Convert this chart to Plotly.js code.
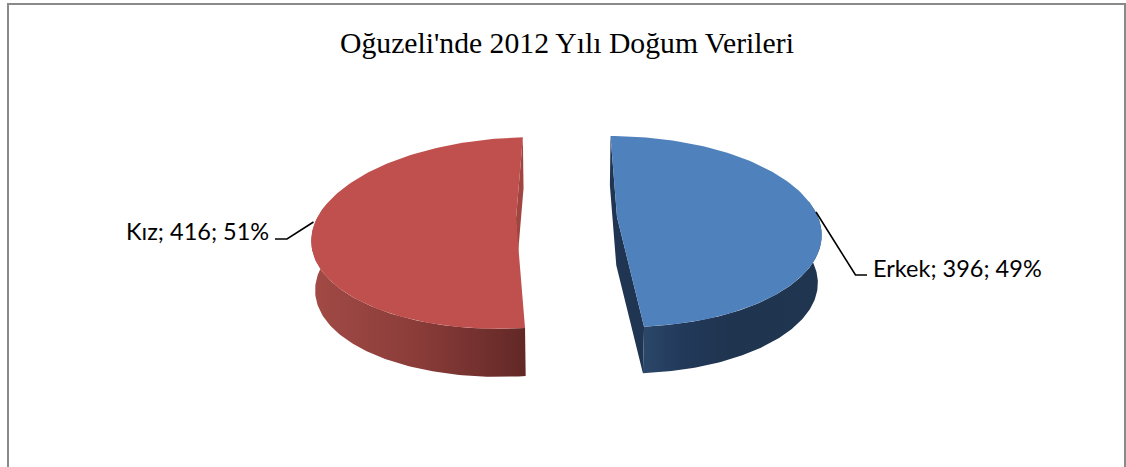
<!DOCTYPE html>
<html>
<head>
<meta charset="utf-8">
<script src="https://cdn.plot.ly/plotly-3.0.1.min.js"></script>
<style>html,body{margin:0;padding:0;background:#fff}#c{width:1126px;height:467px}</style>
</head>
<body>
<div id="c"></div>
<script>
const categories = ["Erkek", "Kız"];
const births = [396, 416];
const percentLabels = ["49%", "51%"];
const chartTitle = "Oğuzeli'nde 2012 Yılı Doğum Verileri";

// Perspective view of the two exploded slices
const VIEW_X = 568, TILT = 0.152, FX = 201, FY = 93.3, SHRINK = 0.985;
const centres = [{x: 617, y: 217, droop: 0, depth: 48}, {x: 516, y: 218.5, droop: -0.02, depth: 49.5}];
const total = births.reduce((a, b) => a + b, 0);
const rad = d => d * Math.PI / 180;

function rim(c, deg) {
  const t = rad(deg), d = 1 + TILT * Math.cos(t);
  const x = c.x + (FX * Math.sin(t) - (c.x - VIEW_X) * TILT * Math.cos(t)) / d;
  return [x, c.y - FY * Math.cos(t) / d + c.droop * (x - c.x)];
}
const low = (p, c) => [VIEW_X + (p[0] - VIEW_X) * SHRINK, 231 + (p[1] - 231) * SHRINK + c.depth];
function arc(c, a, b) {
  const pts = [], n = 120;
  for (let i = 0; i <= n; i++) pts.push(rim(c, a + (b - a) * i / n));
  return pts;
}
function poly(pts, fill, gradient) {
  const tr = {
    type: "scatter", mode: "lines", hoverinfo: "skip", showlegend: false,
    x: pts.map(p => p[0]), y: pts.map(p => p[1]),
    fill: "toself", line: {width: 0, color: "rgba(0,0,0,0)"}
  };
  if (gradient) tr.fillgradient = {type: "horizontal", colorscale: gradient};
  else tr.fillcolor = fill;
  return tr;
}

const sweep0 = 360 * births[0] / total;
const traces = [];

// Erkek slice: clockwise from 12 o'clock
{
  const c = centres[0], a = 0, b = sweep0;
  const top = arc(c, a, b), tip = rim(c, a), front = rim(c, b), apex = [c.x, c.y];
  traces.push(poly([tip, low(tip, c), low(apex, c), low(front, c), front, apex, tip], "#1f3552"));
  const wall = arc(c, 80, b);
  traces.push(poly(wall.concat(wall.slice().reverse().map(p => low(p, c))), null,
    [[0, "#2b4769"], [0.22, "#22395a"], [0.5, "#1f344f"], [1, "#20354f"]]));
  traces.push(poly([apex].concat(top, [apex]), "#4f81bd"));
}
// Kız slice: the rest of the circle
{
  const c = centres[1], a = sweep0, b = 360;
  const top = arc(c, a, b), tip = rim(c, b), apex = [c.x, c.y];
  traces.push(poly([tip, low(tip, c), low(apex, c), apex, tip], "#a14541"));
  const wall = arc(c, a, 280);
  traces.push(poly(wall.concat(wall.slice().reverse().map(p => low(p, c))), null,
    [[0, "#a24a46"], [0.5, "#8a3c39"], [1, "#622826"]]));
  traces.push(poly([apex].concat(top, [apex]), "#c0504d"));
}

const labelFont = {family: "Lato, sans-serif", size: 23.5, color: "#000"};
const line = (path, color, width) => ({type: "path", xref: "x", yref: "y", path,
  line: {color, width}, layer: "above"});

const layout = {
  width: 1126, height: 467, autosize: false,
  margin: {l: 0, r: 0, t: 0, b: 0},
  paper_bgcolor: "#fff", plot_bgcolor: "#fff", showlegend: false,
  xaxis: {range: [0, 1126], visible: false, fixedrange: true},
  yaxis: {range: [467, 0], visible: false, fixedrange: true},
  shapes: [
    line("M8,467 L8,4 L1125,4 L1125,467", "#8a8a8a", 2),
    line("M816,212 L855.5,275 L867,275", "#000", 1.6),
    line("M275,239 L287,239 L313.5,222", "#000", 1.6)
  ],
  annotations: [
    {xref: "x", yref: "y", x: 566.5, y: 42.5, xanchor: "center", yanchor: "middle", showarrow: false,
     text: chartTitle, font: {family: "'Liberation Serif', serif", size: 29.7, color: "#000"}},
    {xref: "x", yref: "y", x: 870.5, y: 267.5, xanchor: "left", yanchor: "middle", showarrow: false,
     text: `${categories[0]}; ${births[0]}; ${percentLabels[0]}`, font: labelFont},
    {xref: "x", yref: "y", x: 271, y: 231, xanchor: "right", yanchor: "middle", showarrow: false,
     text: `${categories[1]}; ${births[1]}; ${percentLabels[1]}`, font: labelFont}
  ]
};
Plotly.newPlot("c", traces, layout, {displayModeBar: false, staticPlot: true});
</script>
</body>
</html>
